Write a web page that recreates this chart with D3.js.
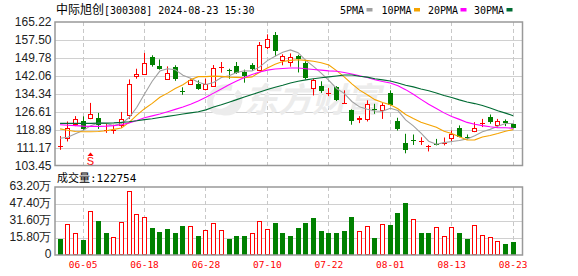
<!DOCTYPE html>
<html lang="zh">
<head>
<meta charset="utf-8">
<script src="https://cdn.jsdelivr.net/npm/d3@7"></script>
<style>
  body { margin: 0; background: #fff; }
  svg { display: block; }
  .ylab { font-family: "Liberation Sans", Arial, sans-serif; font-size: 12px; fill: #222; }
  .xlab { font-family: "DejaVu Sans Mono", monospace; font-size: 9.5px; fill: #f00; }
  .mono { font-family: "DejaVu Sans Mono", monospace; }
  .cjk { font-family: "Noto Sans CJK SC", sans-serif; }
</style>
</head>
<body>
<div id="chart"></div>
<script>
// trading days shown on the chart
var dates = ["05-31","06-03","06-04","06-05","06-06","06-07","06-11","06-12","06-13","06-14",
  "06-17","06-18","06-19","06-20","06-21","06-24","06-25","06-26","06-27","06-28",
  "07-01","07-02","07-03","07-04","07-05","07-08","07-09","07-10","07-11","07-12",
  "07-15","07-16","07-17","07-18","07-19","07-22","07-23","07-24","07-25","07-26",
  "07-29","07-30","07-31","08-01","08-02","08-05","08-06","08-07","08-08","08-09",
  "08-12","08-13","08-14","08-15","08-16","08-19","08-20","08-21","08-22","08-23"];

var opens = [111.9,115.2,121.4,122.5,123.7,124.1,118.6,118.7,120.8,125.3,
  141.8,142.9,150.3,146.4,140.8,145.7,135.6,138.6,138.5,136.5,
  137.8,145.6,144.6,146.3,143.7,146.7,144.4,154.4,159.7,148.7,
  148.1,150.4,147.7,136.8,137.6,134.6,137.2,130.3,127.2,123.3,
  123.5,127.7,127.2,134.7,122.5,113.2,114.7,113.8,111.6,112.8,
  113.0,115.5,119.8,115.7,118.5,121.7,124.3,120.7,122.5,121.1];
var highs = [116.1,122.4,124.7,124.6,130.4,126.1,121.4,121.0,126.5,140.5,
  145.1,151.9,150.9,149.1,146.1,146.6,137.1,140.8,140.1,140.8,
  146.7,148.0,145.1,148.0,144.7,147.5,156.6,159.9,160.9,151.3,
  151.7,151.1,148.3,140.8,139.7,136.8,137.6,135.8,127.6,124.7,
  131.5,130.0,130.3,135.8,124.0,117.1,116.8,115.6,112.3,114.9,
  115.5,118.5,120.7,116.8,122.1,123.5,125.4,123.5,123.3,121.4];
var lows = [110.2,113.8,120.4,118.8,123.4,119.2,117.5,117.1,119.6,123.5,
  140.8,142.7,146.0,144.7,140.5,139.9,133.9,138.2,136.0,135.8,
  137.3,143.4,140.8,142.9,139.1,144.2,144.1,153.5,150.5,146.6,
  146.0,143.5,140.5,133.6,134.7,133.3,131.2,130.0,121.0,121.7,
  122.4,125.7,123.5,129.2,118.5,108.7,112.3,112.3,109.5,112.1,
  112.1,113.9,115.6,114.7,117.8,120.0,121.4,119.8,120.4,119.5];
var closes = [112.1,119.8,123.3,119.2,125.5,120.7,118.8,119.0,123.5,138.4,
  142.8,147.4,146.6,145.1,143.4,140.8,135.4,140.2,136.5,138.4,
  145.3,145.9,144.4,143.4,141.9,144.8,155.2,157.8,152.8,150.4,
  150.0,149.1,141.1,140.1,135.5,134.9,131.5,130.6,122.5,124.1,
  130.0,127.5,129.7,129.4,119.0,110.2,114.5,114.0,111.9,112.6,
  113.3,117.1,115.9,115.5,119.8,121.9,122.0,122.4,121.8,119.8];
var prevClose = 113.0; // close of the day before 05-31

var volumes = [148700,285000,201000,139000,409000,316000,204000,167000,304000,595000,
  378000,350000,254000,214000,242000,204000,270000,267000,177000,232000,
  295000,230000,149000,177000,177000,201000,313000,239000,297000,204000,
  177000,254000,297000,347000,223000,204000,204000,223000,353000,220000,
  267000,158000,285000,279000,390000,483000,335000,204000,204000,260000,
  177000,260000,204000,149000,276000,183000,167000,127000,102000,122754];

var ma5 = [115.2,115.6,117.1,118.5,120.6,121.7,121.5,120.7,121.5,124.1,
  128.5,134.2,139.7,144.1,145.1,144.7,142.3,141.0,139.3,138.3,
  139.2,141.3,142.1,143.5,144.2,144.1,145.9,148.6,150.5,152.2,
  153.2,152.0,148.7,146.1,143.2,140.1,136.6,134.5,131.0,128.7,
  127.7,126.9,126.8,128.1,127.1,123.1,120.5,117.4,113.9,112.6,
  113.3,113.8,114.2,114.9,116.3,118.0,119.0,120.3,121.5,121.5];
var ma10 = [119.2,118.6,118.1,118.0,118.0,118.1,118.4,119.0,119.6,122.0,
  125.1,127.9,130.2,132.8,134.6,136.6,138.2,140.4,141.7,141.7,
  141.9,141.8,141.5,141.4,141.2,141.6,143.6,145.4,147.0,148.2,
  148.7,149.0,148.7,148.3,147.7,146.7,144.3,141.6,138.6,135.9,
  133.9,131.8,130.6,129.6,127.9,125.4,123.7,122.1,121.0,119.9,
  118.2,117.2,115.8,114.4,114.5,115.7,116.4,117.2,118.2,118.9];
var ma20 = [121.0,120.8,120.6,120.4,120.3,120.3,120.4,120.6,121.0,121.8,
  122.8,124.0,124.8,125.6,126.6,127.6,128.6,129.8,131.2,132.8,
  134.6,136.4,138.2,139.8,141.3,142.6,143.7,144.5,145.0,145.2,
  145.4,145.4,145.1,144.8,144.5,144.2,144.0,143.5,142.8,142.1,
  141.3,140.4,139.6,139.0,137.8,136.1,134.1,131.9,129.8,128.0,
  126.1,124.5,123.3,122.0,121.2,120.6,120.1,119.7,119.7,119.5];
var ma30 = [121.6,121.6,121.6,121.6,121.6,121.7,121.7,121.8,122.0,122.3,
  122.7,123.2,123.6,124.1,124.6,125.1,125.6,126.1,126.6,127.4,
  128.6,129.6,130.7,131.8,132.9,134.0,135.1,136.2,137.1,138.0,
  139.0,139.7,140.3,140.8,141.2,141.6,142.0,142.4,142.4,141.9,
  141.5,140.8,140.3,139.8,139.0,138.0,137.3,136.4,135.6,134.7,
  133.6,132.7,131.7,130.8,130.1,129.3,128.2,127.0,126.0,124.9];

var maNames = ["5PMA", "10PMA", "20PMA", "30PMA"];
var maColors = ["#a0a0a0", "#f5a300", "#ff00ff", "#006b33"];
var maSeries = [ma5, ma10, ma20, ma30];

var priceTicks = [103.45, 111.17, 118.89, 126.61, 134.34, 142.06, 149.78, 157.50, 165.22];
var volTicks = [0, 158000, 316000, 474000, 632000];
var volTickLabels = ["0", "15.80万", "31.60万", "47.40万", "63.20万"];
var dateTicks = ["06-05", "06-18", "06-28", "07-10", "07-22", "08-01", "08-13", "08-23"];
var signalDay = "06-06";

var width = 578, height = 276;
var left = 55, right = 522.5;
var pTop = 22, pBottom = 165.5;
var vTop = 187, vBottom = 255;

var red = "#ff0000", green = "#008000";

var svg = d3.select("#chart").append("svg")
    .attr("width", width)
    .attr("height", height);

var x = d3.scaleBand().domain(dates).range([56.2, 517]).paddingInner(0);
function cx(d) { return Math.floor(x(d) + x.bandwidth() / 2); }
var y = d3.scaleLinear().domain([103.45, 165.22]).range([pBottom, pTop]);
var yv = d3.scaleLinear().domain([0, 632000]).range([vBottom, vTop]);

// grid lines
var grid = svg.append("g");
grid.selectAll(".hg").data(priceTicks.slice(1, -1)).enter().append("line")
    .attr("x1", left).attr("x2", right)
    .attr("y1", function(d) { return Math.round(y(d)) + 0.5; })
    .attr("y2", function(d) { return Math.round(y(d)) + 0.5; })
    .style("stroke", "#d0d0d0");
grid.selectAll(".hv").data(volTicks.slice(1, -1)).enter().append("line")
    .attr("x1", left).attr("x2", right)
    .attr("y1", function(d) { return Math.round(yv(d)) + 0.5; })
    .attr("y2", function(d) { return Math.round(yv(d)) + 0.5; })
    .style("stroke", "#d0d0d0");
[[pTop, pBottom], [vTop, vBottom]].forEach(function(r) {
  grid.selectAll(null).data(dateTicks).enter().append("line")
      .attr("x1", function(d) { return cx(d) + 0.5; })
      .attr("x2", function(d) { return cx(d) + 0.5; })
      .attr("y1", r[0]).attr("y2", r[1])
      .style("stroke", "#c8c8c8")
      .style("stroke-dasharray", "4,3");
});

// watermark
var wm = svg.append("g").style("fill", "#ececec");
wm.append("path")
    .attr("d", "M232,88 C214,84 206,100 212,108 C218,116 232,110 236,100 M222,112 C238,116 244,98 236,92")
    .style("fill", "none").style("stroke", "#ececec").style("stroke-width", 6);
wm.append("text")
    .attr("class", "cjk")
    .attr("x", 244).attr("y", 112)
    .style("font-size", "34px")
    .style("font-weight", "bold")
    .style("font-style", "italic")
    .text("东方财富");

// candles
var candles = svg.append("g");
dates.forEach(function(d, i) {
  var o = opens[i], c = closes[i], c0 = cx(d);
  var up = c >= o;
  var col = up ? red : green;
  var yt = y(Math.max(o, c)), yb = y(Math.min(o, c));
  if (yb - yt < 1.5) {
    var ym = Math.round((yt + yb) / 2) + 0.5;
    candles.append("line").attr("x1", c0 + 0.5).attr("x2", c0 + 0.5)
        .attr("y1", y(highs[i])).attr("y2", y(lows[i])).style("stroke", col);
    candles.append("line").attr("x1", c0 - 2).attr("x2", c0 + 3)
        .attr("y1", ym).attr("y2", ym).style("stroke", col);
  } else if (up) {
    var t = Math.round(yt) + 0.5, b = Math.round(yb) + 0.5;
    candles.append("line").attr("x1", c0 + 0.5).attr("x2", c0 + 0.5)
        .attr("y1", y(highs[i])).attr("y2", t).style("stroke", col);
    candles.append("line").attr("x1", c0 + 0.5).attr("x2", c0 + 0.5)
        .attr("y1", b).attr("y2", y(lows[i])).style("stroke", col);
    candles.append("rect").attr("x", c0 - 1.5).attr("y", t)
        .attr("width", 4).attr("height", b - t)
        .style("fill", "#fff").style("stroke", col);
  } else {
    candles.append("line").attr("x1", c0 + 0.5).attr("x2", c0 + 0.5)
        .attr("y1", y(highs[i])).attr("y2", y(lows[i])).style("stroke", col);
    candles.append("rect").attr("x", c0 - 2).attr("y", Math.round(yt))
        .attr("width", 5).attr("height", Math.max(1, Math.round(yb) - Math.round(yt)))
        .style("fill", col);
  }
});

// moving averages
var line = d3.line()
    .x(function(v, i) { return x(dates[i]) + x.bandwidth() / 2; })
    .y(function(v) { return y(v); });
maSeries.forEach(function(s, k) {
  svg.append("path").datum(s)
      .attr("d", line)
      .style("fill", "none")
      .style("stroke", maColors[k])
      .style("stroke-width", 1.1);
});

// signal marker
var sx = cx(signalDay) + 0.5;
svg.append("path")
    .attr("d", "M" + sx + ",152.5 L" + (sx - 3) + ",156 L" + (sx + 3) + ",156 Z")
    .style("fill", red);
svg.append("text")
    .attr("x", sx).attr("y", 164.5)
    .attr("text-anchor", "middle")
    .style("font-family", "Liberation Sans, Arial, sans-serif")
    .style("font-size", "11px")
    .style("fill", red)
    .text("S");

// volume bars
var vbars = svg.append("g");
dates.forEach(function(d, i) {
  var pc = i === 0 ? prevClose : closes[i - 1];
  var up = closes[i] >= pc;
  var c0 = cx(d);
  var t = Math.round(yv(volumes[i]));
  if (up) {
    vbars.append("rect").attr("x", c0 - 1.5).attr("y", t + 0.5)
        .attr("width", 4).attr("height", vBottom - t - 1)
        .style("fill", "#fff").style("stroke", red);
  } else {
    vbars.append("rect").attr("x", c0 - 2).attr("y", t)
        .attr("width", 5).attr("height", vBottom - t)
        .style("fill", green);
  }
});

// frames
[[pTop, pBottom], [vTop, vBottom]].forEach(function(r) {
  svg.append("rect")
      .attr("x", left).attr("y", r[0])
      .attr("width", right - left).attr("height", r[1] - r[0])
      .style("fill", "none")
      .style("stroke", "#999")
      .style("stroke-width", 1.5);
});

// axes labels
var yAxis = d3.axisLeft(y).tickValues(priceTicks).tickSize(0).tickPadding(3)
    .tickFormat(d3.format(".2f"));
svg.append("g").attr("transform", "translate(" + (left - 0.5) + ",0)")
    .call(yAxis)
    .call(function(g) { g.select(".domain").remove(); })
    .selectAll("text").attr("class", "ylab");

var yvAxis = d3.axisLeft(yv).tickValues(volTicks).tickSize(0).tickPadding(3)
    .tickFormat(function(d, i) { return volTickLabels[i]; });
svg.append("g").attr("transform", "translate(" + (left - 0.5) + ",-1)")
    .call(yvAxis)
    .call(function(g) { g.select(".domain").remove(); })
    .selectAll("text").attr("class", "ylab");

var xAxis = d3.axisBottom(x).tickValues(dateTicks).tickSize(0).tickPadding(6);
svg.append("g").attr("transform", "translate(0," + vBottom + ")")
    .call(xAxis)
    .call(function(g) { g.select(".domain").remove(); })
    .selectAll("text").attr("class", "xlab");

// title
var title = svg.append("text").attr("x", 56).attr("y", 14).style("fill", "#000");
title.append("tspan").attr("class", "cjk").style("font-size", "12px").text("中际旭创");
title.append("tspan").attr("class", "mono").style("font-size", "10px").text("[300308] 2024-08-23 15:30");

// legend
var legendX = [340, 381.5, 428, 474];
maNames.forEach(function(n, k) {
  svg.append("text").attr("class", "mono")
      .attr("x", legendX[k]).attr("y", 14)
      .style("font-size", "10px").style("fill", "#000")
      .text(n);
  svg.append("rect")
      .attr("x", legendX[k] + n.length * 6 + 2.5).attr("y", 8)
      .attr("width", 6).attr("height", 3.5)
      .style("fill", maColors[k]);
});

// volume caption
var vt = svg.append("text").attr("x", 57).attr("y", 182).style("fill", "#000");
vt.append("tspan").attr("class", "cjk").style("font-size", "11px").text("成交量");
vt.append("tspan").attr("class", "mono").style("font-size", "11px").text(":" + volumes[volumes.length - 1]);
</script>
</body>
</html>
